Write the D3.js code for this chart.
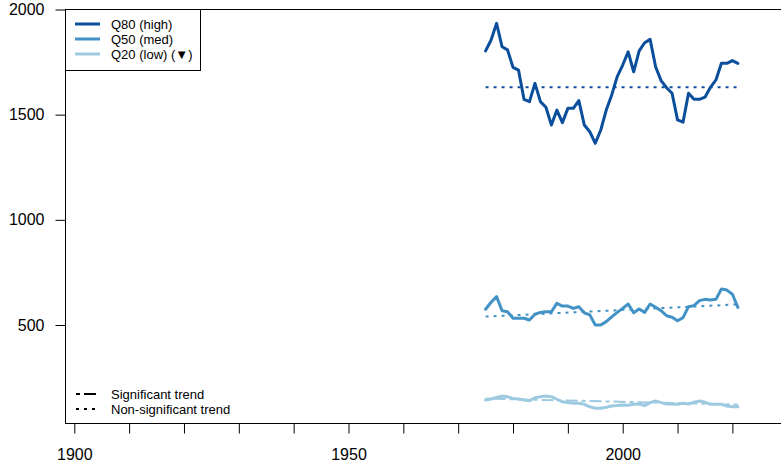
<!DOCTYPE html>
<html>
<head>
<meta charset="utf-8">
<script src="https://cdn.jsdelivr.net/npm/d3@7"></script>
<style>
  html, body { margin: 0; padding: 0; background: #fff; }
  svg { display: block; }
  text { font-family: "Liberation Sans", Arial, sans-serif; fill: #000; }
</style>
</head>
<body>
<svg id="chart" width="781" height="469"></svg>
<script>
const years = [1975,1976,1977,1978,1979,1980,1981,1982,1983,1984,1985,1986,1987,1988,1989,1990,1991,1992,1993,1994,1995,1996,1997,1998,1999,2000,2001,2002,2003,2004,2005,2006,2007,2008,2009,2010,2011,2012,2013,2014,2015,2016,2017,2018,2019,2020,2021];
const q80 = [1803,1855,1934,1823,1808,1725,1712,1573,1562,1649,1562,1535,1451,1522,1462,1530,1530,1567,1451,1419,1364,1427,1522,1594,1681,1736,1799,1704,1803,1842,1858,1728,1662,1628,1602,1475,1464,1602,1573,1573,1583,1630,1665,1744,1744,1757,1744];
const q50 = [575,608,635,568,563,532,532,532,524,551,560,563,563,603,590,590,579,587,558,548,500,500,516,539,560,579,600,558,576,560,600,584,568,544,537,520,535,587,592,616,622,619,622,671,666,646,584];
const q20 = [143,148,156,162,159,151,148,143,140,154,159,162,159,147,135,131,128,128,123,111,104,104,109,115,117,120,118,123,124,117,131,139,131,124,124,123,128,124,133,139,133,123,123,123,115,111,111];

const seriesNames = ["Q80 (high)", "Q50 (med)", "Q20 (low) (\u25BC)"];
const seriesColors = ["#0b4f9c", "#4292c6", "#9ecae1"];
// trend endpoints [start, end] and significance
const trendStart = [1630, 540, 150];
const trendEnd = [1630, 598, 122];
const trendSig = [false, false, true];

const yTicks = [500, 1000, 1500, 2000];
const xTicks = [1900,1910,1920,1930,1940,1950,1960,1970,1980,1990,2000,2010,2020];
const xLabels = [1900, 1950, 2000];
const trendLegend = ["Significant trend", "Non-significant trend"];

const svg = d3.select("#chart");
const x = d3.scaleLinear().domain([1900, 2000]).range([74.3, 622.7]);
const y = d3.scaleLinear().domain([500, 2000]).range([325, 9.5]);

const pLeft = 65, pTop = 9, pBottom = 423, pRight = 800;
const SIG_DASH = "4,4,12,4", NONSIG_DASH = "3,5";

// frame
svg.append("rect").attr("x", pLeft + 0.5).attr("y", pTop + 0.5)
  .attr("width", pRight - pLeft).attr("height", pBottom - pTop)
  .attr("fill", "none").attr("stroke", "#000").attr("stroke-width", 1);

// y axis
const yAxis = d3.axisLeft(y).tickValues(yTicks).tickSize(10).tickPadding(11).tickFormat(d3.format("d"));
const gy = svg.append("g").attr("transform", `translate(${pLeft + 0.5},0)`).call(yAxis);
gy.select(".domain").attr("d", `M0,${y(500)}V${y(2000)}`).attr("stroke", "#000");
gy.selectAll(".tick line").attr("stroke", "#000");
gy.selectAll(".tick text").attr("font-size", 16).attr("font-family", "Liberation Sans, Arial, sans-serif").attr("fill", "#000");

// x axis
const xAxis = d3.axisBottom(x).tickValues(xTicks).tickSize(10).tickPadding(15)
  .tickFormat(d => xLabels.includes(d) ? String(d) : "");
const gx = svg.append("g").attr("transform", `translate(0,${pBottom + 0.5})`).call(xAxis);
gx.select(".domain").remove();
gx.selectAll(".tick line").attr("stroke", "#000");
gx.selectAll(".tick text").attr("font-size", 16).attr("font-family", "Liberation Sans, Arial, sans-serif").attr("fill", "#000");

const line = d3.line().x((d, i) => x(years[i])).y(d => y(d));
const series = [q80, q50, q20];

series.forEach((vals, k) => {
  svg.append("path").datum(vals).attr("d", line)
    .attr("fill", "none").attr("stroke", seriesColors[k]).attr("stroke-width", 3)
    .attr("stroke-linejoin", "round").attr("stroke-linecap", "round");
});
series.forEach((vals, k) => {
  svg.append("line")
    .attr("x1", x(years[0])).attr("x2", x(years[years.length - 1]))
    .attr("y1", y(trendStart[k])).attr("y2", y(trendEnd[k]))
    .attr("stroke", seriesColors[k]).attr("stroke-width", 2)
    .attr("stroke-dasharray", trendSig[k] ? SIG_DASH : NONSIG_DASH);
});

// top-left legend
const lg = svg.append("g");
lg.append("rect").attr("x", pLeft + 0.5).attr("y", pTop + 0.5).attr("width", 135).attr("height", 61)
  .attr("fill", "#fff").attr("stroke", "#000").attr("stroke-width", 1);
seriesNames.forEach((name, k) => {
  const yy = 24 + k * 15;
  lg.append("line").attr("x1", 75).attr("x2", 100).attr("y1", yy).attr("y2", yy)
    .attr("stroke", seriesColors[k]).attr("stroke-width", 3);
  lg.append("text").attr("x", 111).attr("y", yy + 4.5).attr("font-size", 13).text(name);
});

// bottom trend legend
trendLegend.forEach((name, k) => {
  const yy = 394 + k * 15;
  svg.append("line").attr("x1", 76).attr("x2", 97).attr("y1", yy).attr("y2", yy)
    .attr("stroke", "#000").attr("stroke-width", 2)
    .attr("stroke-dasharray", k === 0 ? SIG_DASH : NONSIG_DASH);
  svg.append("text").attr("x", 111).attr("y", yy + 4.5).attr("font-size", 13).text(name);
});
</script>
</body>
</html>
